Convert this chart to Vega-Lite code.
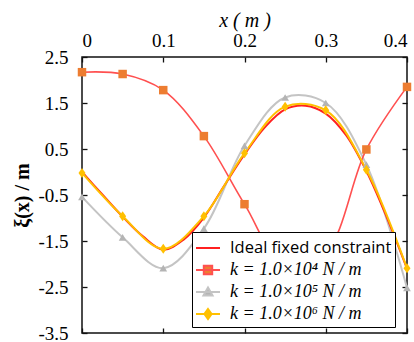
{
  "$schema": "https://vega.github.io/schema/vega-lite/v6.json",
  "width": 325,
  "height": 276,
  "autosize": {"type": "none"},
  "padding": {"left": 82, "top": 57, "right": 7, "bottom": 9},
  "config": {
    "view": {"stroke": "#111", "strokeWidth": 1.5},
    "axis": {"grid": false, "domain": false, "tickColor": "#111", "tickWidth": 1.3, "tickSize": -5,
             "labelFont": "Liberation Serif", "labelFontSize": 19, "labelColor": "#000", "titleColor": "#000"},
    "legend": {"title": null, "orient": "none", "legendX": 110, "legendY": 175, "padding": 3, "rowPadding": 0,
               "strokeColor": "#000", "fillColor": "#fff", "symbolSize": 576, "symbolStrokeWidth": 2, "labelOffset": 9,
               "labelColor": "#000", "labelLimit": 300,
               "labelFont": {"expr": "datum.label === 'Ideal fixed constraint' ? 'Open Sans' : 'Liberation Serif'"},
               "labelFontStyle": {"expr": "datum.label === 'Ideal fixed constraint' ? 'normal' : 'italic'"},
               "labelFontSize": {"expr": "datum.label === 'Ideal fixed constraint' ? 16.5 : 18"}}
  },
  "data": {"values": [
    {"x": 0, "y": 0.0, "s": "Ideal fixed constraint"},
    {"x": 0.025, "y": -0.49, "s": "Ideal fixed constraint"},
    {"x": 0.05, "y": -0.97, "s": "Ideal fixed constraint"},
    {"x": 0.075, "y": -1.4, "s": "Ideal fixed constraint"},
    {"x": 0.1, "y": -1.69, "s": "Ideal fixed constraint"},
    {"x": 0.125, "y": -1.47, "s": "Ideal fixed constraint"},
    {"x": 0.15, "y": -0.99, "s": "Ideal fixed constraint"},
    {"x": 0.175, "y": -0.3, "s": "Ideal fixed constraint"},
    {"x": 0.2, "y": 0.38, "s": "Ideal fixed constraint"},
    {"x": 0.225, "y": 0.97, "s": "Ideal fixed constraint"},
    {"x": 0.25, "y": 1.36, "s": "Ideal fixed constraint"},
    {"x": 0.275, "y": 1.44, "s": "Ideal fixed constraint"},
    {"x": 0.3, "y": 1.27, "s": "Ideal fixed constraint"},
    {"x": 0.325, "y": 0.8, "s": "Ideal fixed constraint"},
    {"x": 0.35, "y": 0.02, "s": "Ideal fixed constraint"},
    {"x": 0.375, "y": -0.98, "s": "Ideal fixed constraint"},
    {"x": 0.4, "y": -2.1, "s": "Ideal fixed constraint"},
    {"x": 0, "y": 2.17, "s": "k = 1.0×10⁴ N / m"},
    {"x": 0.05, "y": 2.13, "s": "k = 1.0×10⁴ N / m"},
    {"x": 0.1, "y": 1.78, "s": "k = 1.0×10⁴ N / m"},
    {"x": 0.15, "y": 0.78, "s": "k = 1.0×10⁴ N / m"},
    {"x": 0.2, "y": -0.7, "s": "k = 1.0×10⁴ N / m"},
    {"x": 0.25, "y": -2.05, "s": "k = 1.0×10⁴ N / m"},
    {"x": 0.3, "y": -1.75, "s": "k = 1.0×10⁴ N / m"},
    {"x": 0.35, "y": 0.49, "s": "k = 1.0×10⁴ N / m"},
    {"x": 0.4, "y": 1.85, "s": "k = 1.0×10⁴ N / m"},
    {"x": 0, "y": -0.54, "s": "k = 1.0×10⁵ N / m"},
    {"x": 0.05, "y": -1.42, "s": "k = 1.0×10⁵ N / m"},
    {"x": 0.1, "y": -2.09, "s": "k = 1.0×10⁵ N / m"},
    {"x": 0.15, "y": -1.23, "s": "k = 1.0×10⁵ N / m"},
    {"x": 0.2, "y": 0.57, "s": "k = 1.0×10⁵ N / m"},
    {"x": 0.25, "y": 1.62, "s": "k = 1.0×10⁵ N / m"},
    {"x": 0.3, "y": 1.5, "s": "k = 1.0×10⁵ N / m"},
    {"x": 0.35, "y": 0.16, "s": "k = 1.0×10⁵ N / m"},
    {"x": 0.4, "y": -2.52, "s": "k = 1.0×10⁵ N / m"},
    {"x": 0, "y": -0.02, "s": "k = 1.0×10⁶ N / m"},
    {"x": 0.05, "y": -0.96, "s": "k = 1.0×10⁶ N / m"},
    {"x": 0.1, "y": -1.67, "s": "k = 1.0×10⁶ N / m"},
    {"x": 0.15, "y": -0.96, "s": "k = 1.0×10⁶ N / m"},
    {"x": 0.2, "y": 0.41, "s": "k = 1.0×10⁶ N / m"},
    {"x": 0.25, "y": 1.42, "s": "k = 1.0×10⁶ N / m"},
    {"x": 0.3, "y": 1.34, "s": "k = 1.0×10⁶ N / m"},
    {"x": 0.35, "y": 0.05, "s": "k = 1.0×10⁶ N / m"},
    {"x": 0.4, "y": -2.09, "s": "k = 1.0×10⁶ N / m"}
  ]},
  "resolve": {"axis": {"x": "independent", "y": "independent"}},
  "layer": [
    {
      "transform": [{"filter": "datum.s === 'k = 1.0×10⁵ N / m'"}],
      "mark": {"type": "line", "interpolate": "catmull-rom", "color": "#c4c4c4", "strokeWidth": 2},
      "encoding": {
        "x": {"field": "x", "type": "quantitative", "scale": {"domain": [0, 0.4], "nice": false, "zero": false},
              "axis": {"orient": "top", "values": [0, 0.1, 0.2, 0.3, 0.4], "labelExpr": "'' + datum.value", "labelPadding": 12,
                       "title": "x ( m )", "titleFont": "Liberation Serif", "titleFontStyle": "italic", "titleFontWeight": "normal", "titleFontSize": 20, "titlePadding": 1}},
        "y": {"field": "y", "type": "quantitative", "scale": {"domain": [-3.5, 2.5], "nice": false, "zero": false},
              "axis": {"orient": "left", "values": [-3.5, -2.5, -1.5, -0.5, 0.5, 1.5, 2.5], "labelExpr": "'' + datum.value", "labelPadding": 19,
                       "title": "ξ(x) / m", "titleFont": "Liberation Serif", "titleFontWeight": "bold", "titleFontSize": 20, "titlePadding": 5}}
      }
    },
    {
      "transform": [{"filter": "datum.s === 'Ideal fixed constraint'"}],
      "mark": {"type": "line", "interpolate": "catmull-rom", "color": "#ff2020", "strokeWidth": 2},
      "encoding": {
        "x": {"field": "x", "type": "quantitative", "scale": {"domain": [0, 0.4], "nice": false, "zero": false},
              "axis": {"orient": "bottom", "values": [0, 0.1, 0.2, 0.3, 0.4], "labels": false, "title": null}},
        "y": {"field": "y", "type": "quantitative", "scale": {"domain": [-3.5, 2.5], "nice": false, "zero": false},
              "axis": {"orient": "right", "values": [-3.5, -2.5, -1.5, -0.5, 0.5, 1.5, 2.5], "labels": false, "title": null}}
      }
    },
    {
      "transform": [{"filter": "datum.s === 'k = 1.0×10⁴ N / m'"}],
      "mark": {"type": "line", "interpolate": "catmull-rom", "color": "#ff5050", "strokeWidth": 1.6},
      "encoding": {
        "x": {"field": "x", "type": "quantitative", "axis": null},
        "y": {"field": "y", "type": "quantitative", "axis": null}
      }
    },
    {
      "transform": [{"filter": "datum.s === 'k = 1.0×10⁶ N / m'"}],
      "mark": {"type": "line", "interpolate": "catmull-rom", "color": "#ffc000", "strokeWidth": 2},
      "encoding": {
        "x": {"field": "x", "type": "quantitative", "axis": null},
        "y": {"field": "y", "type": "quantitative", "axis": null}
      }
    },
    {
      "transform": [{"filter": "datum.s === 'k = 1.0×10⁵ N / m'"}],
      "mark": {"type": "point", "shape": "triangle-up", "filled": true, "color": "#b4b4b4", "size": 60, "opacity": 1},
      "encoding": {
        "x": {"field": "x", "type": "quantitative", "axis": null},
        "y": {"field": "y", "type": "quantitative", "axis": null}
      }
    },
    {
      "transform": [{"filter": "datum.s === 'k = 1.0×10⁴ N / m'"}],
      "mark": {"type": "point", "shape": "square", "filled": true, "color": "#ed7d31", "size": 72, "opacity": 1},
      "encoding": {
        "x": {"field": "x", "type": "quantitative", "axis": null},
        "y": {"field": "y", "type": "quantitative", "axis": null}
      }
    },
    {
      "transform": [{"filter": "datum.s === 'k = 1.0×10⁶ N / m'"}],
      "mark": {"type": "point", "shape": "M0,-1L0.7,0L0,1L-0.7,0Z", "filled": true, "color": "#ffc000", "size": 100, "opacity": 1},
      "encoding": {
        "x": {"field": "x", "type": "quantitative", "axis": null},
        "y": {"field": "y", "type": "quantitative", "axis": null}
      }
    },
    {
      "transform": [{"filter": "false"}],
      "mark": {"type": "point", "filled": true, "opacity": 1},
      "encoding": {
        "x": {"field": "x", "type": "quantitative", "axis": null},
        "y": {"field": "y", "type": "quantitative", "axis": null},
        "stroke": {"field": "s", "type": "nominal",
          "scale": {"domain": ["Ideal fixed constraint", "k = 1.0×10⁴ N / m", "k = 1.0×10⁵ N / m", "k = 1.0×10⁶ N / m"],
                    "range": ["#ff2020", "#ff5050", "#c4c4c4", "#ffc000"]}},
        "fill": {"field": "s", "type": "nominal",
          "scale": {"domain": ["Ideal fixed constraint", "k = 1.0×10⁴ N / m", "k = 1.0×10⁵ N / m", "k = 1.0×10⁶ N / m"],
                    "range": ["transparent", "#ed7d31", "#b4b4b4", "#ffc000"]}},
        "shape": {"field": "s", "type": "nominal",
          "scale": {"domain": ["Ideal fixed constraint", "k = 1.0×10⁴ N / m", "k = 1.0×10⁵ N / m", "k = 1.0×10⁶ N / m"],
                    "range": ["M-1,0H1", "M-1,0H1M-0.35,-0.35H0.35V0.35H-0.35Z", "M-1,0H1M0,-0.38L0.38,0.3H-0.38Z", "M-1,0H1M0,-0.42L0.3,0L0,0.42L-0.3,0Z"]}}
      }
    }
  ]
}
